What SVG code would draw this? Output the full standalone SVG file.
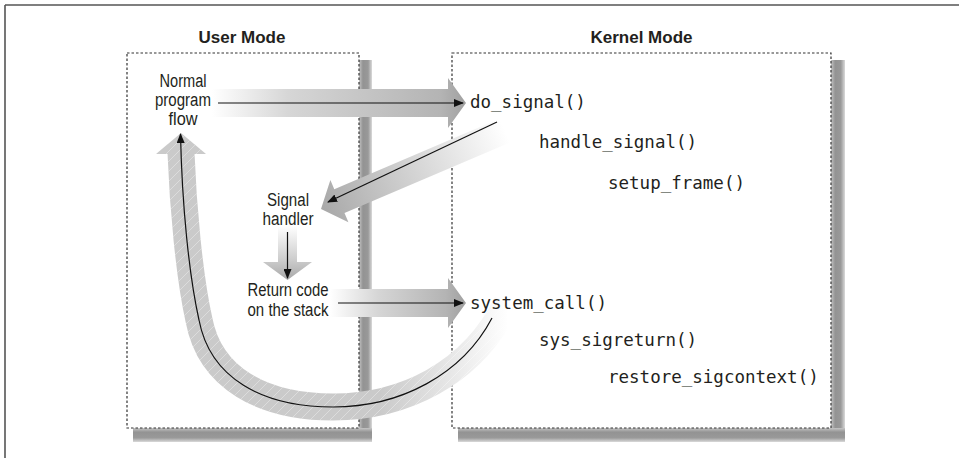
<svg xmlns="http://www.w3.org/2000/svg" width="959" height="458" viewBox="0 0 959 458">
<style>
.box{fill:#fff;stroke:#333;stroke-width:1.2;stroke-dasharray:2.5 2}
.title{font-family:"Liberation Sans Narrow","Liberation Sans",Arial,sans-serif;font-weight:bold;font-size:17px;fill:#231f20;text-anchor:middle}
.lbl{font-family:"Liberation Sans Narrow","Liberation Sans",Arial,sans-serif;font-size:18px;fill:#231f20;text-anchor:middle}
.code{font-family:"DejaVu Sans Mono","Liberation Mono",monospace;font-size:17.5px;fill:#231f20}
.ln{fill:none;stroke:#111;stroke-width:1.2;marker-end:url(#ah)}
</style>
<defs>
<marker id="ah" viewBox="0 0 10 8" refX="9" refY="4" markerWidth="10" markerHeight="8" markerUnits="userSpaceOnUse" orient="auto">
<path d="M0,0 L10,4 L0,8 Z" fill="#111"/>
</marker>
<linearGradient id="shR" x1="0" y1="0" x2="1" y2="0">
<stop offset="0" stop-color="#c4c4c4"/><stop offset="0.3" stop-color="#939393"/><stop offset="0.7" stop-color="#999999"/><stop offset="1" stop-color="#dadada"/>
</linearGradient>
<linearGradient id="shB" x1="0" y1="0" x2="0" y2="1">
<stop offset="0" stop-color="#c4c4c4"/><stop offset="0.3" stop-color="#939393"/><stop offset="0.7" stop-color="#999999"/><stop offset="1" stop-color="#dadada"/>
</linearGradient>
<linearGradient id="gH1" gradientUnits="userSpaceOnUse" x1="212" y1="0" x2="466" y2="0">
<stop offset="0" stop-color="#ffffff"/><stop offset="0.3" stop-color="#d6d6d6"/><stop offset="0.9" stop-color="#b4b4b4"/><stop offset="1" stop-color="#a0a0a0"/>
</linearGradient>
<linearGradient id="gH2" gradientUnits="userSpaceOnUse" x1="330" y1="0" x2="466" y2="0">
<stop offset="0" stop-color="#ffffff"/><stop offset="0.35" stop-color="#d6d6d6"/><stop offset="0.85" stop-color="#b4b4b4"/><stop offset="1" stop-color="#a0a0a0"/>
</linearGradient>
<linearGradient id="gD" gradientUnits="userSpaceOnUse" x1="0" y1="0" x2="200" y2="0">
<stop offset="0" stop-color="#a8a8a8"/><stop offset="0.4" stop-color="#cbcbcb"/><stop offset="1" stop-color="#ffffff"/>
</linearGradient>
<linearGradient id="gV" gradientUnits="userSpaceOnUse" x1="0" y1="226" x2="0" y2="280">
<stop offset="0" stop-color="#ffffff"/><stop offset="0.6" stop-color="#cfcfcf"/><stop offset="1" stop-color="#a8a8a8"/>
</linearGradient>
<linearGradient id="gC" gradientUnits="userSpaceOnUse" x1="380" y1="0" x2="508" y2="0">
<stop offset="0" stop-color="#cacaca"/><stop offset="1" stop-color="#ffffff"/>
</linearGradient>
<pattern id="hatch" patternUnits="userSpaceOnUse" width="10" height="10">
<path d="M-2,12 L12,-2" stroke="#ffffff" stroke-width="0.7" stroke-opacity="0.5"/>
</pattern>
</defs>

<g id="frame">
<path d="M5,5 H959 M5,5 V458" fill="none" stroke="#555" stroke-width="1.6"/>
</g>

<g id="user-mode">
<rect x="359" y="60" width="13" height="382" fill="url(#shR)"/>
<rect x="133" y="428" width="239" height="14" fill="url(#shB)"/>
<rect class="box" x="127" y="53" width="232" height="375"/>
<text class="title" x="242" y="43">User Mode</text>
</g>

<g id="kernel-mode">
<rect x="831" y="60" width="14" height="382" fill="url(#shR)"/>
<rect x="458" y="428" width="387" height="14" fill="url(#shB)"/>
<rect class="box" x="452" y="53" width="379" height="375"/>
<text class="title" x="641.5" y="43">Kernel Mode</text>
</g>

<g id="connectors">
<path d="M212,89 H448 V78 L466,103 L448,128 V117 H212 Z" fill="url(#gH1)"/>
<path d="M330,289 H448 V278 L466,303 L448,328 V317 H330 Z" fill="url(#gH2)"/>
<path transform="translate(321,209) rotate(-23.1)" d="M0,0 L20,-23 L20,-13 L200,-13 L200,13 L20,13 L20,23 Z" fill="url(#gD)"/>
<path d="M278,226 H297 V262 H312 L287.5,280 L263,262 H278 Z" fill="url(#gV)"/>
<path d="M507,303 C472,375 402,407 333,407 C262,407 210,378 199,320 C189,275 183,205 181,153" fill="none" stroke="url(#gC)" stroke-width="27"/>
<path d="M507,303 C472,375 402,407 333,407 C262,407 210,378 199,320 C189,275 183,205 181,153" fill="none" stroke="url(#hatch)" stroke-width="27"/>
<path d="M156,154 L206,154 L181,133 Z" fill="#cacaca"/>
<path d="M156,154 L206,154 L181,133 Z" fill="url(#hatch)"/>

<path class="ln" d="M218,103 H463"/>
<path class="ln" d="M338,303 H463"/>
<path class="ln" d="M497,122 L328,202"/>
<path class="ln" d="M287.5,232 V278"/>
<path class="ln" d="M492,318 C462,375 400,407 333,407 C262,407 210,378 199,320 C189,275 182,205 180.5,134"/>
</g>

<g id="normal-flow">
<text class="lbl" x="183" y="87" textLength="47" lengthAdjust="spacingAndGlyphs">Normal</text>
<text class="lbl" x="183" y="106" textLength="56" lengthAdjust="spacingAndGlyphs">program</text>
<text class="lbl" x="183" y="125" textLength="29" lengthAdjust="spacingAndGlyphs">flow</text>
</g>
<g id="signal-handler">
<text class="lbl" x="288" y="206" textLength="42" lengthAdjust="spacingAndGlyphs">Signal</text>
<text class="lbl" x="288" y="225" textLength="51" lengthAdjust="spacingAndGlyphs">handler</text>
</g>
<g id="return-code">
<text class="lbl" x="288" y="296" textLength="81" lengthAdjust="spacingAndGlyphs">Return code</text>
<text class="lbl" x="288" y="316" textLength="81" lengthAdjust="spacingAndGlyphs">on the stack</text>
</g>

<g id="do-signal"><text class="code" x="470" y="108">do_signal()</text></g>
<g id="handle-signal"><text class="code" x="539" y="148">handle_signal()</text></g>
<g id="setup-frame"><text class="code" x="608" y="189">setup_frame()</text></g>
<g id="system-call"><text class="code" x="470" y="309">system_call()</text></g>
<g id="sys-sigreturn"><text class="code" x="539" y="346">sys_sigreturn()</text></g>
<g id="restore-sigcontext"><text class="code" x="608" y="383">restore_sigcontext()</text></g>
</svg>
